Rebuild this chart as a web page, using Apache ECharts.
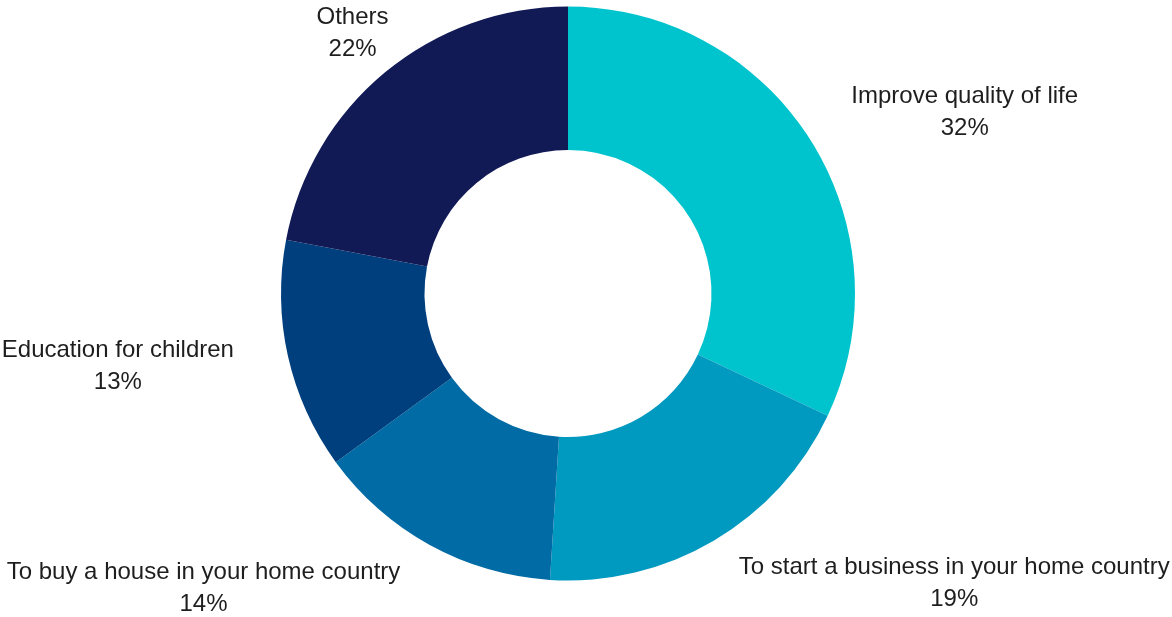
<!DOCTYPE html>
<html>
<head>
<meta charset="utf-8">
<script src="https://cdn.jsdelivr.net/npm/echarts@6/dist/echarts.min.js"></script>
<style>
  html, body { margin: 0; padding: 0; background: #ffffff; }
  #chart { width: 1172px; height: 617px; }
</style>
</head>
<body>
<div id="chart"></div>
<script>
// Reasons for sending money home, share of respondents (%)
const categories = [
  'Improve quality of life',
  'To start a business in your home country',
  'To buy a house in your home country',
  'Education for children',
  'Others'
];
const shares = [32, 19, 14, 13, 22];

// Slice palette, light teal to deep navy
const sliceColors = ['#00C4CD', '#0099BF', '#006BA4', '#003F7E', '#121A56'];

// Label placement: angular nudge from the slice's mid-angle (deg) and distance from the centre (px)
const labelPlacement = [
  [7.9, 436],
  [-22.5, 483],
  [22.2, 469],
  [3.4, 456],
  [0, 338]
];

const cx = 568, cy = 293.5;
const outerR = 287, innerR = 143.5;

// Mid-angle of each slice, measured clockwise from 12 o'clock
const total = shares.reduce((a, b) => a + b, 0);
const midAngles = [];
let acc = 0;
shares.forEach(v => {
  midAngles.push((acc + v / 2) / total * 360);
  acc += v;
});

const chart = echarts.init(document.getElementById('chart'), null, { renderer: 'canvas' });

chart.setOption({
  animation: false,
  backgroundColor: '#ffffff',
  series: [{
    type: 'pie',
    center: [cx, cy],
    radius: [innerR, outerR],
    startAngle: 90,
    clockwise: true,
    avoidLabelOverlap: false,
    color: sliceColors,
    itemStyle: { borderWidth: 0 },
    emphasis: { disabled: true },
    label: {
      show: true,
      position: 'outside',
      formatter: p => p.name + '\n' + p.value + '%',
      fontFamily: '"Liberation Sans", Arial, sans-serif',
      fontSize: 24,
      lineHeight: 32,
      color: '#1e1e1e',
      align: 'center'
    },
    labelLine: { show: false },
    labelLayout: params => {
      const i = params.dataIndex;
      const ang = (midAngles[i] + labelPlacement[i][0]) * Math.PI / 180;
      const d = labelPlacement[i][1];
      return {
        x: cx + d * Math.sin(ang),
        y: cy - d * Math.cos(ang),
        align: 'center',
        verticalAlign: 'middle'
      };
    },
    data: categories.map((name, i) => ({ name: name, value: shares[i] }))
  }]
});
</script>
</body>
</html>
